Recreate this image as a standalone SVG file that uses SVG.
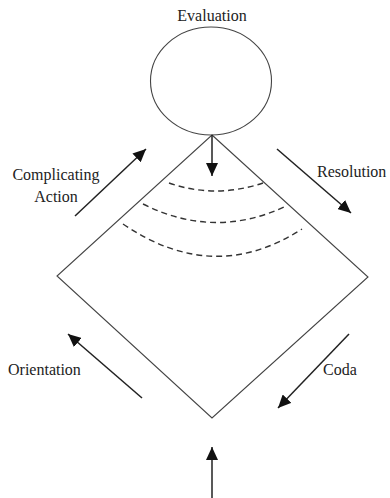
<svg xmlns="http://www.w3.org/2000/svg" width="390" height="498" viewBox="0 0 390 498">
<style>
text{font-family:'Liberation Serif','Times New Roman','DejaVu Serif',serif;font-size:16px;fill:#222}
.shape{fill:none;stroke:#444;stroke-width:1.1}
.arr{fill:none;stroke:#222;stroke-width:1.5;marker-end:url(#ah)}
.dash{fill:none;stroke:#333;stroke-width:1.4;stroke-dasharray:6 4}
</style>
<defs>
<marker id="ah" markerUnits="userSpaceOnUse" markerWidth="14" markerHeight="12" refX="13" refY="6" orient="auto">
<path d="M0,0 L13,6 L0,12 Z" fill="#111"/>
</marker>
</defs>
<rect width="390" height="498" fill="#fff"/>
<g id="evaluation">
<ellipse class="shape" cx="211" cy="81" rx="60.5" ry="54"/>
<text x="212" y="21" text-anchor="middle">Evaluation</text>
</g>
<g id="diamond">
<polygon class="shape" points="212,135 368,277 212,418 57,276"/>
</g>
<g id="arcs">
<path class="dash" d="M169,183 Q215,199 263,183"/>
<path class="dash" d="M143,204 Q215,240 286,206"/>
<path class="dash" d="M123,224 Q214,286 302,229"/>
</g>
<g id="complicating-action">
<text x="56" y="180" text-anchor="middle">Complicating</text>
<text x="56" y="202" text-anchor="middle">Action</text>
</g>
<g id="resolution">
<text x="317" y="177">Resolution</text>
</g>
<g id="orientation">
<text x="8" y="375">Orientation</text>
</g>
<g id="coda">
<text x="323" y="375">Coda</text>
</g>
<g id="connectors">
<line class="arr" x1="212" y1="135" x2="212" y2="176"/>
<line class="arr" x1="75" y1="216" x2="146" y2="149"/>
<line class="arr" x1="277" y1="149" x2="351" y2="213"/>
<line class="arr" x1="142" y1="398" x2="68" y2="334"/>
<line class="arr" x1="349" y1="334" x2="278" y2="408"/>
<line class="arr" x1="212" y1="498" x2="212" y2="447"/>
</g>
</svg>
